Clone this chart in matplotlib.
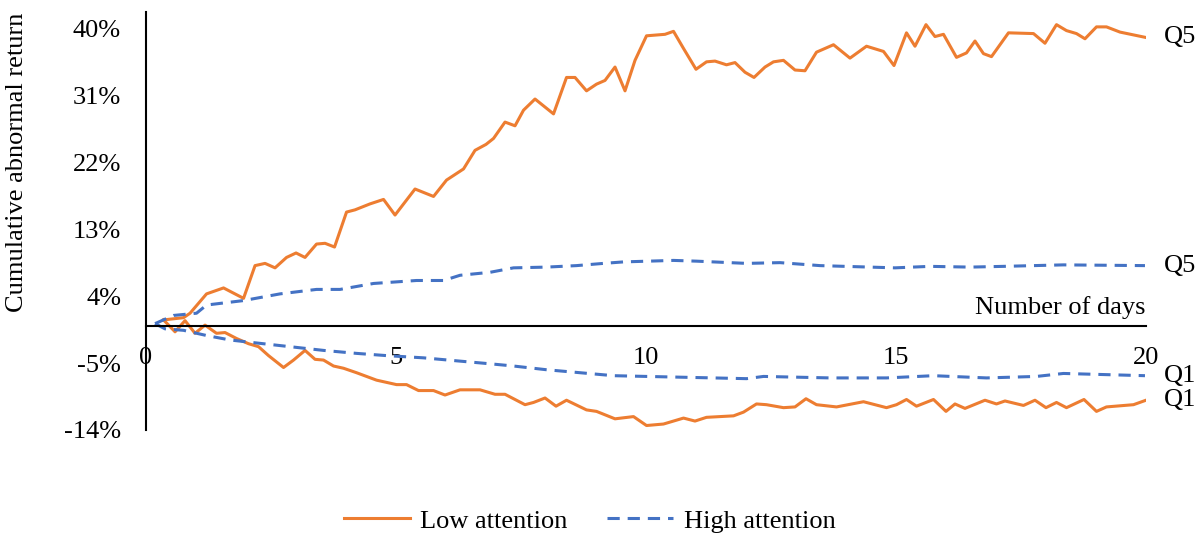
import matplotlib
matplotlib.use("Agg")
import matplotlib.pyplot as plt
from matplotlib.lines import Line2D

plt.rcParams["font.family"] = ["Liberation Serif", "DejaVu Serif"]

ORANGE = "#ED7D31"
BLUE = "#4472C4"
FS = 19

# Low attention, top quintile (Q5)
days_low_q5 = [0.35, 0.75, 0.88, 1.21, 1.55, 1.95, 2.18, 2.38, 2.58, 2.81,
               3.0, 3.18, 3.41, 3.58, 3.77, 4.01, 4.18, 4.48, 4.75, 4.98,
               5.38, 5.75, 6.01, 6.35, 6.58, 6.8, 6.95, 7.18, 7.38, 7.55,
               7.78, 8.15, 8.41, 8.58, 8.81, 9.01, 9.18, 9.38, 9.58, 9.78,
               10.01, 10.38, 10.55, 10.75, 11.0, 11.21, 11.38, 11.61, 11.78, 11.98,
               12.16, 12.38, 12.55, 12.75, 12.98, 13.18, 13.41, 13.75, 14.08, 14.41,
               14.75, 14.96, 15.21, 15.38, 15.6, 15.78, 15.95, 16.21, 16.41, 16.58,
               16.75, 16.91, 17.25, 17.75, 17.98, 18.21, 18.41, 18.61, 18.78, 19.01,
               19.21, 19.48, 19.98]
car_low_q5 = [0.8, 1.1, 1.7, 4.3, 5.1, 3.7, 8.1, 8.4, 7.8, 9.2,
              9.8, 9.2, 11.0, 11.1, 10.6, 15.3, 15.6, 16.4, 17.0, 14.9,
              18.4, 17.4, 19.6, 21.1, 23.6, 24.4, 25.2, 27.4, 26.9, 29.0,
              30.5, 28.5, 33.4, 33.4, 31.6, 32.5, 33.0, 34.8, 31.6, 35.7,
              39.0, 39.2, 39.6, 37.3, 34.5, 35.5, 35.6, 35.1, 35.4, 34.1,
              33.4, 34.8, 35.5, 35.7, 34.4, 34.3, 36.8, 37.8, 36.0, 37.6,
              36.9, 35.0, 39.4, 37.6, 40.5, 38.9, 39.2, 36.1, 36.7, 38.3,
              36.6, 36.2, 39.4, 39.3, 38.0, 40.5, 39.7, 39.3, 38.6, 40.2,
              40.2, 39.5, 38.8]

# Low attention, bottom quintile (Q1)
days_low_q1 = [0.35, 0.58, 0.78, 0.98, 1.18, 1.41, 1.58, 1.81, 2.05, 2.25,
               2.45, 2.75, 2.95, 3.18, 3.38, 3.55, 3.75, 3.95, 4.21, 4.61,
               5.01, 5.21, 5.45, 5.75, 5.98, 6.28, 6.68, 6.98, 7.18, 7.58,
               7.75, 7.98, 8.2, 8.41, 8.81, 9.01, 9.38, 9.75, 10.01, 10.35,
               10.75, 10.98, 11.21, 11.75, 11.95, 12.21, 12.41, 12.75, 12.98, 13.2,
               13.41, 13.81, 14.35, 14.81, 15.01, 15.21, 15.41, 15.75, 16.0, 16.18,
               16.38, 16.78, 17.01, 17.18, 17.55, 17.78, 18.0, 18.21, 18.41, 18.76,
               19.01, 19.21, 19.75, 20.0]
car_low_q1 = [0.8, -0.8, 0.7, -1.0, 0.1, -1.0, -0.9, -1.7, -2.4, -2.8,
              -4.0, -5.6, -4.6, -3.3, -4.5, -4.6, -5.4, -5.7, -6.3, -7.3,
              -7.9, -7.9, -8.7, -8.7, -9.3, -8.6, -8.6, -9.2, -9.2, -10.6,
              -10.3, -9.7, -10.8, -10.0, -11.3, -11.5, -12.5, -12.2, -13.4, -13.2,
              -12.4, -12.8, -12.3, -12.1, -11.6, -10.5, -10.6, -11.0, -10.9, -9.8,
              -10.6, -10.9, -10.2, -11.0, -10.6, -9.9, -10.8, -9.9, -11.5, -10.5,
              -11.1, -10.0, -10.5, -10.1, -10.7, -10.0, -11.0, -10.3, -11.0, -9.9,
              -11.5, -10.9, -10.6, -10.0]

# High attention, Q5
days_high_q5 = [0.18, 0.55, 1.01, 1.21, 1.95, 2.68, 3.41, 3.88, 4.55, 5.41,
                5.95, 6.28, 6.88, 7.35, 8.01, 8.61, 9.15, 9.55, 10.55, 11.01,
                12.01, 12.68, 13.48, 14.48, 14.98, 15.68, 16.48, 17.15, 18.35, 19.98]
car_high_q5 = [0.3, 1.4, 1.7, 2.8, 3.4, 4.3, 4.9, 4.9, 5.7, 6.1,
               6.1, 6.8, 7.2, 7.8, 7.9, 8.1, 8.4, 8.6, 8.8, 8.7,
               8.4, 8.5, 8.1, 7.9, 7.8, 8.0, 7.9, 8.0, 8.2, 8.1]

# High attention, Q1
days_high_q1 = [0.18, 0.38, 0.75, 1.21, 1.68, 2.21, 2.88, 3.55, 4.21, 4.81,
                5.55, 6.21, 6.88, 7.35, 8.01, 8.68, 9.35, 10.01, 10.68, 11.35,
                12.01, 12.35, 13.68, 14.81, 15.75, 16.81, 17.81, 18.35, 19.98]
car_high_q1 = [0.3, -0.4, -0.6, -1.3, -1.9, -2.3, -2.8, -3.3, -3.7, -4.0,
               -4.3, -4.7, -5.1, -5.4, -5.9, -6.3, -6.7, -6.8, -6.9, -7.0,
               -7.1, -6.8, -7.0, -7.0, -6.7, -7.0, -6.8, -6.4, -6.7]

y_ticks = [-14, -5, 4, 13, 22, 31, 40]
x_ticks = [0, 5, 10, 15, 20]

fig = plt.figure(figsize=(12.03, 5.36), dpi=100)
ax = fig.add_axes([0.1214, 0.1978, 0.8312, 0.7798])

dash = (4, 2.6)
ax.plot(days_low_q5, car_low_q5, color=ORANGE, lw=2.2, solid_joinstyle="round")
ax.plot(days_low_q1, car_low_q1, color=ORANGE, lw=2.2, solid_joinstyle="round")
ax.plot(days_high_q5, car_high_q5, color=BLUE, lw=2.2, linestyle=(0, dash))
ax.plot(days_high_q1, car_high_q1, color=BLUE, lw=2.2, linestyle=(0, dash))

ax.set_xlim(0, 20)
ax.set_ylim(-14, 42.2)
ax.set_xticks(x_ticks)
ax.set_yticks(y_ticks)
ax.set_yticklabels([f"{t}%" for t in y_ticks])

ax.spines["top"].set_visible(False)
ax.spines["right"].set_visible(False)
ax.spines["bottom"].set_position(("data", 0))
ax.spines["left"].set_linewidth(1.5)
ax.spines["bottom"].set_linewidth(1.5)
ax.tick_params(axis="x", length=0, pad=15, labelsize=FS)
ax.tick_params(axis="y", length=0, pad=18, labelsize=FS)

ax.text(20, 0.9, "Number of days", ha="right", va="bottom", fontsize=FS)

# series end labels
for days, vals, lab in [(days_low_q5, car_low_q5, "Q5"), (days_high_q5, car_high_q5, "Q5"),
                        (days_high_q1, car_high_q1, "Q1"), (days_low_q1, car_low_q1, "Q1")]:
    ax.text(20.35, vals[-1], lab, ha="left", va="center", fontsize=FS, clip_on=False)

fig.text(0.014, 0.698, "Cumulative abnormal return", rotation=90,
         ha="center", va="center", fontsize=FS)

handles = [Line2D([], [], color=ORANGE, lw=2.2),
           Line2D([], [], color=BLUE, lw=2.2, linestyle=(0, dash))]
fig.legend(handles, ["Low attention", "High attention"], loc="lower center",
           bbox_to_anchor=(0.49, -0.038), ncol=2, frameon=False, fontsize=FS,
           handlelength=2.5, handletextpad=0.4, columnspacing=1.5)

fig.savefig("out.png", dpi=100)
